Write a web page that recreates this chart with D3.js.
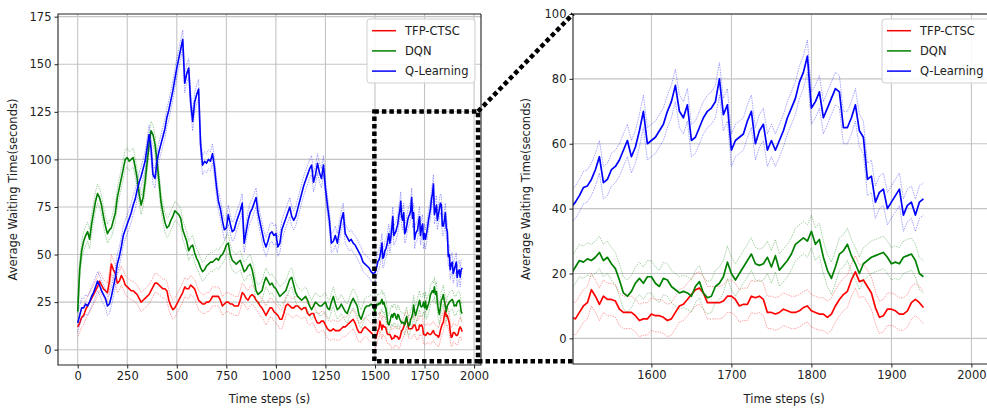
<!DOCTYPE html>
<html>
<head>
<meta charset="utf-8">
<script src="https://cdn.jsdelivr.net/npm/d3@7"></script>
<style>
	body { margin: 0; background: #fff; }
	svg { display: block; }
	text { font-family: "DejaVu Sans", sans-serif; }
</style>
</head>
<body>
<div id="chart"></div>
<script>
// time axis: every 10 s up to 1490, every 5 s in the zoomed part
var timeCoarse = d3.range(0, 1500, 10);
var timeFine = d3.range(1500, 1945, 5);

var seriesNames = ["TFP-CTSC", "DQN", "Q-Learning"];
var seriesColors = ["#ff0000", "#008000", "#0000ff"];
var seriesSpread = [5, 5, 5];   // half width of the light band

var tfpCoarse = [12,14,17,18,21,23,25,27,29,31,
	33,36,34,32,31,30,36,45,42,40,
	35,36,39,37,34,33,32,31,31,30,
	29,27,25,26,27,28,29,31,33,35,
	35,34,33,32,32,31,26,23,21,22,
	24,26,28,30,33,32,32,34,33,32,
	29,26,25,24,24,25,25,26,28,28,
	28,28,26,23,24,25,25,24,24,23,
	23,23,26,30,29,27,26,28,29,28,
	26,25,23,22,20,18,20,22,22,20,
	19,18,16,16,19,23,24,23,22,22,
	23,23,22,21,22,22,19,18,19,19,
	16,14,14,15,15,13,11,10,10,11,
	10,10,10,11,12,12,13,14,15,16,
	14,11,9,9,11,12,11,10,9,8];
var tfpFine = [6.5,6,8,10,11,15,13,10.5,13,12,
	12,11.5,9,8,8,8,7,5.5,6,6,
	7.5,7,7,6.5,5.5,6,8,10,10.5,12,
	13.5,15,15.5,14,11,11,11,11,11.5,13,
	13,12,10,10.5,10.5,13,12.5,13,12,8,
	8,7.5,8,9,8.5,8,8,8.5,9.5,10,
	8.5,8,7.5,7.5,6.5,7.5,10,12,13.5,14.5,
	18,20.5,17.5,18,16,14,9.5,6.5,7,9,
	9,8.5,7.5,7.5,8.5,11,12,11,9.5];

var dqnCoarse = [20,42,52,57,60,62,58,66,72,78,
	82,80,76,70,65,61,63,64,68,72,
	80,85,90,95,100,101,99,100,101,96,
	90,82,76,80,88,98,108,115,113,108,
	99,89,78,72,67,64,65,68,70,73,
	72,71,69,63,60,57,52,54,55,51,
	48,46,43,41,42,44,45,46,46,47,
	48,47,49,50,52,55,56,50,47,46,
	45,46,47,44,41,42,44,45,42,37,
	31,29,30,31,35,38,36,34,35,33,
	32,30,28,29,30,31,34,37,38,34,
	30,28,27,26,27,28,26,23,21,23,
	25,24,23,23,24,25,22,21,25,28,
	24,21,22,24,22,20,19,22,25,27,
	25,23,18,16,19,22,23,23,24,23];
var dqnFine = [20,22,24,23.5,24.5,24,25,26.5,24,25,
	23,21.5,18,14,13,14.5,17,18.5,17,19,
	19,17,16,18.5,18,16,15,14,14.5,14,
	13,16,17.5,14,12.5,13,16,17,19,23.5,
	20,18,20,22,24,26,23,22.5,23,25,
	22,25.5,21,22.5,24,26,29,30,31,30,
	33,29,30.5,25,21,18.5,22,26,27,29,
	25.5,23,20,23,24,25,25.5,26,26.5,25,
	23,23.5,23,25,25.5,26,24,20,19];

var qlCoarse = [14,18,22,22,24,23,25,28,30,33,
	36,34,31,29,27,23,24,28,33,38,
	45,49,54,60,63,66,69,72,76,79,
	84,88,91,95,99,106,113,106,92,90,
	99,104,108,112,116,122,126,131,136,142,
	148,153,158,163,140,145,148,130,120,130,
	134,137,108,97,99,98,100,99,103,96,
	86,78,74,68,63,64,71,66,62,63,
	67,70,73,77,56,62,68,72,74,77,
	80,72,67,62,57,54,57,61,62,60,
	61,54,56,63,66,69,72,75,70,68,
	70,74,78,82,86,89,92,95,97,88,
	92,98,93,90,97,85,76,68,56,57,
	60,56,62,68,72,61,59,57,58,56,
	55,53,51,49,46,45,44,43,41,40];
var qlFine = [40.5,42,44,46.5,47,49,52,56,48,49,
	52,53,55,58,61,56,59,64,70,60,
	61,62,64,66,70,73,78,70,68,72,
	61,62,65,68,70,71,73,80,69,72,
	58,61,62,63,67,70,60,64,66,58,
	61,58,61,64,68,71,74,79,82,87,
	71,73,76,68,71,74,77,76,65,65,
	68,72,64,62,49,50,42,45,46,40,
	42,44,46,38,41,42,38,42,43];

var leftXTicks = [0,250,500,750,1000,1250,1500,1750,2000];
var leftYTicks = [0,25,50,75,100,125,150,175];
var rightXTicks = [1600,1700,1800,1900,2000];
var rightYTicks = [0,20,40,60,80,100];

var time = timeCoarse.concat(timeFine);
var values = [tfpCoarse.concat(tfpFine), dqnCoarse.concat(dqnFine), qlCoarse.concat(qlFine)];

var width = 987, height = 412;
var svg = d3.select("#chart").append("svg")
	.attr("width", width)
	.attr("height", height);

function panel(id, xs, ys, xticks, yticks, opt) {
	var g = svg.append("g");
	var x0 = xs.range()[0], x1 = xs.range()[1];
	var yTop = ys.range()[1], yBot = ys.range()[0];

	svg.append("clipPath").attr("id", id)
		.append("rect").attr("x", x0).attr("y", yTop)
		.attr("width", x1 - x0).attr("height", yBot - yTop);

	// grid
	g.selectAll(".gx").data(xticks).enter().append("line")
		.attr("x1", function(d){ return xs(d); }).attr("x2", function(d){ return xs(d); })
		.attr("y1", yTop).attr("y2", yBot)
		.attr("stroke", "#c4c4c4").attr("stroke-width", 1.1);
	g.selectAll(".gy").data(yticks).enter().append("line")
		.attr("x1", x0).attr("x2", x1)
		.attr("y1", function(d){ return ys(d); }).attr("y2", function(d){ return ys(d); })
		.attr("stroke", "#c4c4c4").attr("stroke-width", 1.1);

	var plot = g.append("g").attr("clip-path", "url(#" + id + ")");
	values.forEach(function(vals, k) {
		var pts = time.map(function(t, i){ return [t, vals[i]]; });
		var line = function(off) {
			return d3.line()
				.x(function(d){ return xs(d[0]); })
				.y(function(d){ return ys(d[1] + off); })(pts);
		};
		[seriesSpread[k], -seriesSpread[k]].forEach(function(off) {
			plot.append("path").attr("d", line(off))
				.attr("fill", "none")
				.attr("stroke", seriesColors[k])
				.attr("stroke-opacity", 0.4)
				.attr("stroke-width", 0.9)
				.attr("stroke-dasharray", "1.5,1");
		});
		plot.append("path").attr("d", line(0))
			.attr("fill", "none")
			.attr("stroke", seriesColors[k])
			.attr("stroke-width", opt.lw)
			.attr("stroke-linejoin", "round");
	});

	// axes
	var fmt = d3.format("d");
	var ax = g.append("g").attr("transform", "translate(0," + yBot + ")")
		.call(d3.axisBottom(xs).tickValues(xticks).tickFormat(fmt).tickSize(3.5).tickPadding(3));
	var ay = g.append("g").attr("transform", "translate(" + x0 + ",0)")
		.call(d3.axisLeft(ys).tickValues(yticks).tickFormat(fmt).tickSize(3.5).tickPadding(3));
	[ax, ay].forEach(function(a) {
		a.select(".domain").remove();
		a.selectAll("text").attr("font-size", "11.5px").attr("fill", "#222")
			.attr("font-family", "DejaVu Sans");
		a.selectAll("line").attr("stroke", "#222");
	});

	// frame
	var fr = "M" + x1 + "," + yTop + "H" + x0 + "V" + yBot + "H" + x1;
	if (opt.rightSpine) fr += "V" + yTop;
	g.append("path").attr("d", fr).attr("fill", "none")
		.attr("stroke", "#222").attr("stroke-width", 1.1);

	// labels
	g.append("text").attr("x", (x0 + x1) / 2).attr("y", 403)
		.attr("text-anchor", "middle").attr("font-size", "11.5px").attr("fill", "#222")
		.text("Time steps (s)");
	g.append("text").attr("transform", "translate(" + opt.ylabX + "," + (yTop + yBot) / 2 + ") rotate(-90)")
		.attr("text-anchor", "middle").attr("font-size", "11.5px").attr("fill", "#222")
		.text("Average Waiting Time(seconds)");

	// legend
	var lg = g.append("g").attr("transform", "translate(" + opt.legX + ",19)");
	lg.append("rect").attr("width", 108).attr("height", 64).attr("rx", 3)
		.attr("fill", "#fff").attr("fill-opacity", 0.85)
		.attr("stroke", "#d0d0d0");
	seriesNames.forEach(function(n, k) {
		var yy = 11.7 + k * 20.2;
		lg.append("line").attr("x1", 5).attr("x2", 29).attr("y1", yy).attr("y2", yy)
			.attr("stroke", seriesColors[k]).attr("stroke-width", 1.5);
		lg.append("text").attr("x", 38).attr("y", yy + 4.2)
			.attr("font-size", "11.5px").attr("fill", "#222").text(n);
	});
}

var xL = d3.scaleLinear().domain([-99.4, 2035]).range([58, 481]);
var yL = d3.scaleLinear().domain([-8.04, 176.4]).range([365, 14]);
var xR = d3.scaleLinear().domain([1502, 2030]).range([573, 995.4]);
var yR = d3.scaleLinear().domain([-7.9, 100]).range([364, 14]);

panel("clipL", xL, yL, leftXTicks, leftYTicks, {lw: 1.6, rightSpine: true, ylabX: 17, legX: 367});
panel("clipR", xR, yR, rightXTicks, rightYTicks, {lw: 1.7, rightSpine: false, ylabX: 530, legX: 882});

// dotted zoom box and connectors
var bx0 = xL(1497), bx1 = xL(2020), by0 = yL(125.2), by1 = yL(-6.1);
var dotted = function(sel) {
	return sel.attr("fill", "none").attr("stroke", "#000")
		.attr("stroke-width", 4.5).attr("stroke-dasharray", "4.5,3");
};
dotted(svg.append("rect").attr("x", bx0).attr("y", by0)
	.attr("width", bx1 - bx0).attr("height", by1 - by0));
dotted(svg.append("line").attr("x1", bx1).attr("y1", by0).attr("x2", xR(1502)).attr("y2", yR(100)));
dotted(svg.append("line").attr("x1", bx1).attr("y1", by1).attr("x2", xR(1502)).attr("y2", by1));
</script>
</body>
</html>
